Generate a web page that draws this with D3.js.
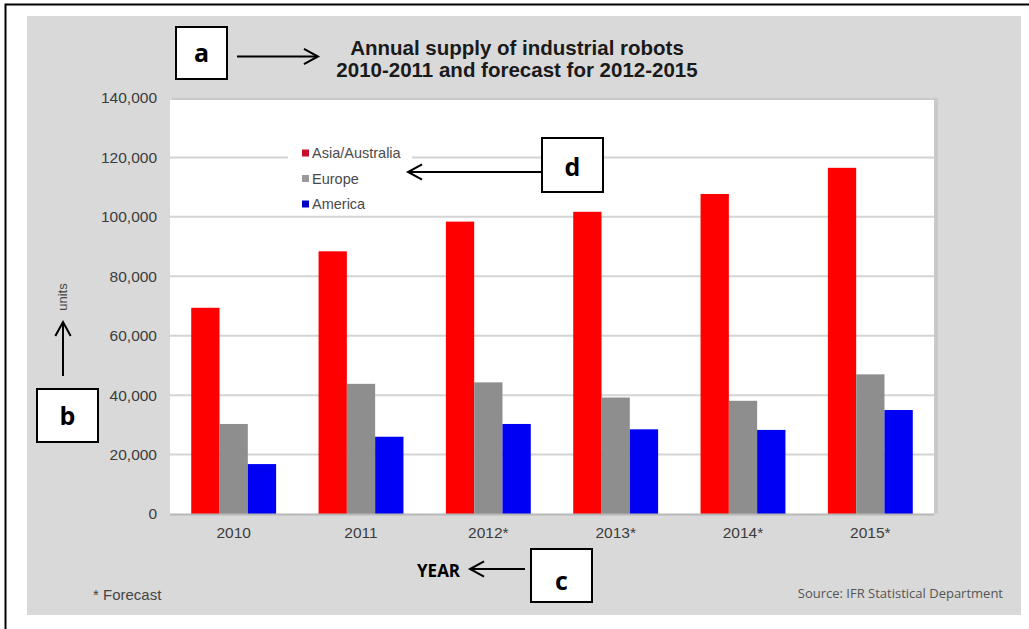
<!DOCTYPE html>
<html><head><meta charset="utf-8">
<script src="https://cdn.jsdelivr.net/npm/d3@7/dist/d3.min.js"></script>
<style>body{margin:0;background:#fff}svg{display:block}</style>
</head><body>
<svg id="c" width="1029" height="629"></svg>
<script>
const years = ["2010","2011","2012*","2013*","2014*","2015*"];
const seriesNames = ["Asia/Australia","Europe","America"];
const asia = [69400, 88400, 98400, 101700, 107700, 116500];
const europe = [30300, 43800, 44300, 39200, 38100, 47000];
const america = [16800, 26000, 30300, 28500, 28300, 35000];
const yTicks = [0,20000,40000,60000,80000,100000,120000,140000];
const titleLines = ["Annual supply of industrial robots","2010-2011 and forecast for 2012-2015"];
const colors = ["#ff0000","#8e8e8e","#0000f2"];
const legendColors = ["#c8102e","#9a9a9a","#0000c8"];

const svg = d3.select("#c");
svg.append("rect").attr("x",0).attr("y",0).attr("width",1029).attr("height",629).attr("fill","#fff");
svg.append("rect").attr("x",27).attr("y",16).attr("width",994).attr("height",599).attr("fill","#d9d9d9");
svg.append("path").attr("d","M5.5,640 V4.5 H1029").attr("fill","none").attr("stroke","#000").attr("stroke-width",2);

const y = d3.scaleLinear().domain([0,140000]).range([514,98]);
const x0 = d3.scaleBand().domain(years).range([170,934]).paddingInner(1/3).paddingOuter(1/6);
const x1 = d3.scaleBand().domain(seriesNames).range([0,x0.bandwidth()]);

svg.append("rect").attr("x",172).attr("y",y(140000)).attr("width",766).attr("height",y(0)-y(140000)).attr("fill","#c9c9c9");
svg.append("rect").attr("x",170).attr("y",y(140000)+2).attr("width",764).attr("height",y(0)-y(140000)-2).attr("fill","#fff");

svg.append("g").selectAll("line").data(yTicks.filter(d=>d>0 && d<140000)).join("line")
  .attr("x1",170).attr("x2",934).attr("y1",d=>y(d)).attr("y2",d=>y(d))
  .attr("stroke","#d4d4d4").attr("stroke-width",2);

const data = years.map((yr,i)=>({yr, vals:[asia[i],europe[i],america[i]]}));
const g = svg.append("g");
g.selectAll("g").data(data).join("g").attr("transform",d=>`translate(${x0(d.yr)},0)`)
  .selectAll("rect").data(d=>d.vals.map((v,j)=>({v,s:seriesNames[j],j}))).join("rect")
  .attr("x",d=>x1(d.s)).attr("width",x1.bandwidth()).attr("y",d=>y(d.v)).attr("height",d=>y(0)-y(d.v))
  .attr("fill",d=>colors[d.j]);

svg.append("line").attr("x1",170).attr("x2",934).attr("y1",y(0)+0.5).attr("y2",y(0)+0.5).attr("stroke","#b8b8b8").attr("stroke-width",2);

const yAx = svg.append("g").attr("transform","translate(157,0)")
  .call(d3.axisLeft(y).tickValues(yTicks).tickSize(0).tickPadding(0).tickFormat(d3.format(",")));
yAx.select(".domain").remove();
yAx.selectAll("text").attr("font-family","Liberation Sans, Arial, sans-serif").attr("font-size",15.5).attr("fill","#3c3c3c");

const xAx = svg.append("g").attr("transform",`translate(0,${y(0)})`)
  .call(d3.axisBottom(x0).tickSize(0).tickPadding(13));
xAx.select(".domain").remove();
xAx.selectAll("text").attr("font-family","Liberation Sans, Arial, sans-serif").attr("font-size",15.5).attr("fill","#3c3c3c");

svg.append("rect").attr("x",288).attr("y",142).attr("width",124).attr("height",71).attr("fill","#fff");
const lg = svg.append("g").selectAll("g").data(seriesNames).join("g")
  .attr("transform",(d,i)=>`translate(302,${153+i*25.5})`);
lg.append("rect").attr("x",0).attr("y",-3.5).attr("width",7).attr("height",7).attr("fill",(d,i)=>legendColors[i]);
lg.append("text").attr("x",10).attr("y",5).text(d=>d)
  .attr("font-family","Liberation Sans, Arial, sans-serif").attr("font-size",14.5).attr("fill","#4a4a4a");

svg.append("g").selectAll("text").data(titleLines).join("text")
  .attr("x",517).attr("y",(d,i)=>55+i*22).attr("text-anchor","middle")
  .attr("font-family","Liberation Sans, Arial, sans-serif").attr("font-weight","bold").attr("font-size",20.5)
  .attr("fill","#1a1a1a").text(d=>d);

svg.append("text").attr("transform","translate(67,297) rotate(-90)").attr("text-anchor","middle")
  .attr("font-family","Liberation Sans, Arial, sans-serif").attr("font-size",13).attr("fill","#444").text("units");

svg.append("text").attr("x",93).attr("y",600).attr("font-family","Liberation Sans, Arial, sans-serif")
  .attr("font-size",15).attr("fill","#444").text("* Forecast");
svg.append("text").attr("x",1003).attr("y",598).attr("text-anchor","end").attr("font-family","Open Sans, sans-serif")
  .attr("font-size",13).attr("fill","#555").text("Source: IFR Statistical Department");

function box(x,yy,w,h,letter,ly){
  svg.append("rect").attr("x",x).attr("y",yy).attr("width",w).attr("height",h).attr("fill","#fff").attr("stroke","#000").attr("stroke-width",2);
  svg.append("text").attr("x",x+w/2).attr("y",ly).attr("text-anchor","middle").attr("font-family","Open Sans, sans-serif")
    .attr("font-weight","bold").attr("font-size",25).attr("fill","#000").text(letter);
}
function arrow(x1_,y1_,x2_,y2_){
  svg.append("line").attr("x1",x1_).attr("y1",y1_).attr("x2",x2_).attr("y2",y2_).attr("stroke","#000").attr("stroke-width",2);
  const a = Math.atan2(y2_-y1_,x2_-x1_), L=16, s=0.5;
  const p1=[x2_-L*Math.cos(a-s), y2_-L*Math.sin(a-s)], p2=[x2_-L*Math.cos(a+s), y2_-L*Math.sin(a+s)];
  svg.append("path").attr("d",`M${p1}L${x2_},${y2_}L${p2}`).attr("fill","none").attr("stroke","#000").attr("stroke-width",2);
}
box(176,27,51,52,"a",62);
arrow(237,56.5,318,56.5);
box(37,389,61,53,"b",425);
arrow(63,376,63,322);
box(531,549,61,53,"c",590);
arrow(525,569,470,569);
svg.append("text").attr("x",417).attr("y",577).attr("font-family","Open Sans, sans-serif").attr("font-weight","bold")
  .attr("font-size",17).attr("fill","#000").text("YEAR");
box(542,138,61,54,"d",176);
arrow(541,172,408,172);
</script>
</body></html>
